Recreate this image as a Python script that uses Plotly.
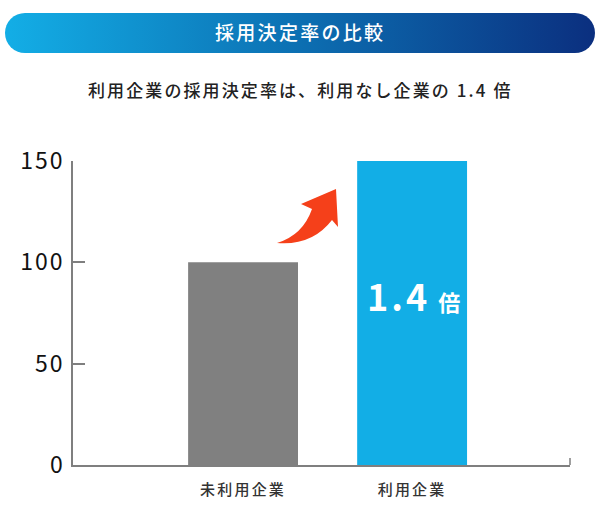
import base64
import plotly.graph_objects as go

categories = ["未利用企業", "利用企業"]
positions = [1, 2]
values = [100, 150]
bar_colors = ["#808080", "#12AEE6"]
y_ticks = [0, 50, 100, 150]

FONT = "Noto Sans CJK JP"
FONT_MEDIUM = "'Noto Sans CJK JP Medium', 'Noto Sans CJK JP'"
W, H = 600, 508


def px(x):
    return x / W


def py(y):
    return 1 - y / H


def spaced(text, gap):
    return f"<span style='letter-spacing:{gap}px'>{text}</span>"


# plotly shapes have no gradient fill, so the header pill is an svg image
pill_svg = """<svg xmlns="http://www.w3.org/2000/svg" width="590" height="40">
<defs><linearGradient id="g" x1="0" x2="1" y1="0" y2="0">
<stop offset="0" stop-color="#13AEE6"/><stop offset="0.5" stop-color="#0C6FB2"/>
<stop offset="1" stop-color="#0B2F7F"/></linearGradient></defs>
<rect x="0" y="0" width="590" height="40" rx="20" ry="20" fill="url(#g)"/></svg>"""
pill_uri = "data:image/svg+xml;base64," + base64.b64encode(pill_svg.encode()).decode()

fig = go.Figure()
fig.add_trace(go.Bar(x=positions, y=values, width=0.65, marker=dict(color=bar_colors, line=dict(width=0))))

fig.update_layout(
    width=W, height=H, margin=dict(l=0, r=0, t=0, b=0),
    paper_bgcolor="white", plot_bgcolor="white", showlegend=False,
    font=dict(family=FONT, color="#222222"),
    xaxis=dict(domain=[px(73), px(570)], range=[-0.006, 2.934], tickvals=positions,
               ticktext=[spaced(c, 2.2) for c in categories], automargin=False,
               tickfont=dict(size=15, color="#333333", family=FONT_MEDIUM), ticks="", showgrid=False, zeroline=False,
               showline=True, linecolor="#7F7F7F", linewidth=1.5, ticklabelstandoff=10),
    yaxis=dict(domain=[py(465), py(161)], range=[0, 150], tickvals=y_ticks,
               ticktext=[spaced(v, 2) for v in y_ticks], automargin=False,
               tickfont=dict(size=23, color="#111111"),
               ticks="inside", ticklen=12, tickcolor="#7F7F7F", tickwidth=1.5, showgrid=False, zeroline=False,
               showline=True, linecolor="#7F7F7F", linewidth=1.5, ticklabelstandoff=2),
    images=[dict(source=pill_uri, xref="paper", yref="paper", x=px(5), y=py(13), sizex=px(590), sizey=40 / H,
                 xanchor="left", yanchor="top", sizing="stretch", layer="below")],
)

# small end tick on the right of the baseline
fig.add_shape(type="line", xref="paper", yref="paper", x0=px(570), x1=px(570), y0=py(465), y1=py(458),
              line=dict(color="#7F7F7F", width=1.5))

# red arrow between the bars
path = (f"M{px(277)},{py(243)} Q{px(303)},{py(235)} {px(312)},{py(209)} L{px(301)},{py(204)} "
        f"L{px(336)},{py(189)} L{px(338)},{py(227)} L{px(332)},{py(220)} Q{px(312)},{py(246)} {px(277)},{py(243)} Z")
fig.add_shape(type="path", xref="paper", yref="paper", path=path, fillcolor="#F5401A", line=dict(width=0))

# y values are set high on purpose, the cjk font draws annotations about 14px low
fig.add_annotation(text=spaced("採用決定率の比較", 2.3), xref="paper", yref="paper", x=px(300), y=py(16), showarrow=False,
                   font=dict(size=19, color="white", family=FONT_MEDIUM))
fig.add_annotation(text=spaced("利用企業の採用決定率は、利用なし企業の 1.4 倍", 2.1), xref="paper", yref="paper",
                   x=px(300), y=py(75), showarrow=False,
                   font=dict(size=17, color="#222222", family=FONT_MEDIUM))
fig.add_annotation(text="<b><span style='letter-spacing:3px'>1.4</span></b> <b><span style='font-size:22px'>倍</span></b>",
                   x=2.01, y=84, xref="x", yref="y", showarrow=False,
                   font=dict(size=36, color="white", family=FONT))

# page body has a default 8px margin, drop it so the figure fills the window
fig.write_html("out.html", config=dict(displayModeBar=False), post_script="document.body.style.margin='0';")
